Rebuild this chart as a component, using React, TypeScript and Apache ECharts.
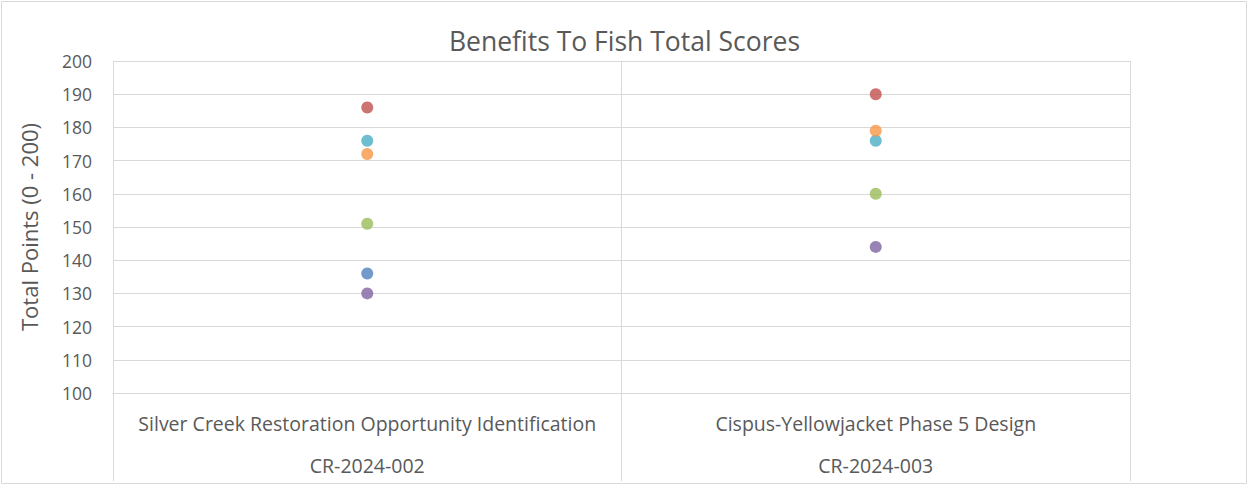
import React, { useEffect, useRef } from "react";
import * as echarts from "echarts";

const categories = [
  "Silver Creek Restoration Opportunity Identification\nCR-2024-002",
  "Cispus-Yellowjacket Phase 5 Design\nCR-2024-003",
];
const seriesNames = ["Scorer 1", "Scorer 2", "Scorer 3", "Scorer 4", "Scorer 5", "Scorer 6"];
const seriesColors = ["#4F81BD", "#C0504D", "#9BBB59", "#8064A2", "#4BACC6", "#F79646"];
const seriesValues: (number | null)[][] = [
  [136, null],
  [186, 190],
  [151, 160],
  [130, 144],
  [176, 176],
  [172, 179],
];
const yMin = 100;
const yMax = 200;
const yInterval = 10;

export default function App() {
  const ref = useRef<HTMLDivElement>(null);
  useEffect(() => {
    document.body.style.margin = "0";
    if (!ref.current) return;
    const chart = echarts.init(ref.current, undefined, { renderer: "svg" });
    const font = "'Open Sans', sans-serif";
    chart.setOption({
      animation: false,
      backgroundColor: "#ffffff",
      title: {
        text: "Benefits To Fish Total Scores",
        left: "center",
        top: 22,
        textStyle: { fontFamily: font, fontSize: 26.5, fontWeight: "normal", color: "#595959" },
      },
      graphic: [
        {
          type: "rect",
          shape: { x: 1.5, y: 1.5, width: 1245, height: 482 },
          style: { fill: "none", stroke: "#d9d9d9", lineWidth: 1 },
          silent: true,
        },
      ],
      grid: { left: 113, right: 119, top: 61, bottom: 91, containLabel: false },
      xAxis: {
        type: "category",
        data: categories,
        boundaryGap: true,
        axisLine: { show: true, lineStyle: { color: "#d9d9d9", width: 1 } },
        axisTick: { show: true, length: 88, interval: 0, lineStyle: { color: "#d9d9d9" } },
        splitLine: { show: true, interval: 0, lineStyle: { color: "#d9d9d9" } },
        axisLabel: {
          interval: 0,
          margin: 9,
          lineHeight: 42,
          fontFamily: font,
          fontSize: 19.5,
          color: "#595959",
        },
      },
      yAxis: {
        type: "value",
        min: yMin,
        max: yMax,
        interval: yInterval,
        name: "Total Points (0 - 200)",
        nameLocation: "middle",
        nameGap: 73,
        nameTextStyle: { fontFamily: font, fontSize: 22, color: "#595959" },
        axisLine: { show: true, lineStyle: { color: "#d9d9d9" } },
        axisTick: { show: false },
        splitLine: { show: true, lineStyle: { color: "#d9d9d9" } },
        axisLabel: { fontFamily: font, fontSize: 17.5, color: "#595959", margin: 21 },
      },
      series: seriesNames.map((name, i) => ({
        name,
        type: "scatter",
        symbol: "circle",
        symbolSize: 12,
        itemStyle: { color: seriesColors[i] },
        data: seriesValues[i],
      })),
    });
    return () => chart.dispose();
  }, []);
  return <div ref={ref} style={{ width: 1249, height: 486 }} />;
}
